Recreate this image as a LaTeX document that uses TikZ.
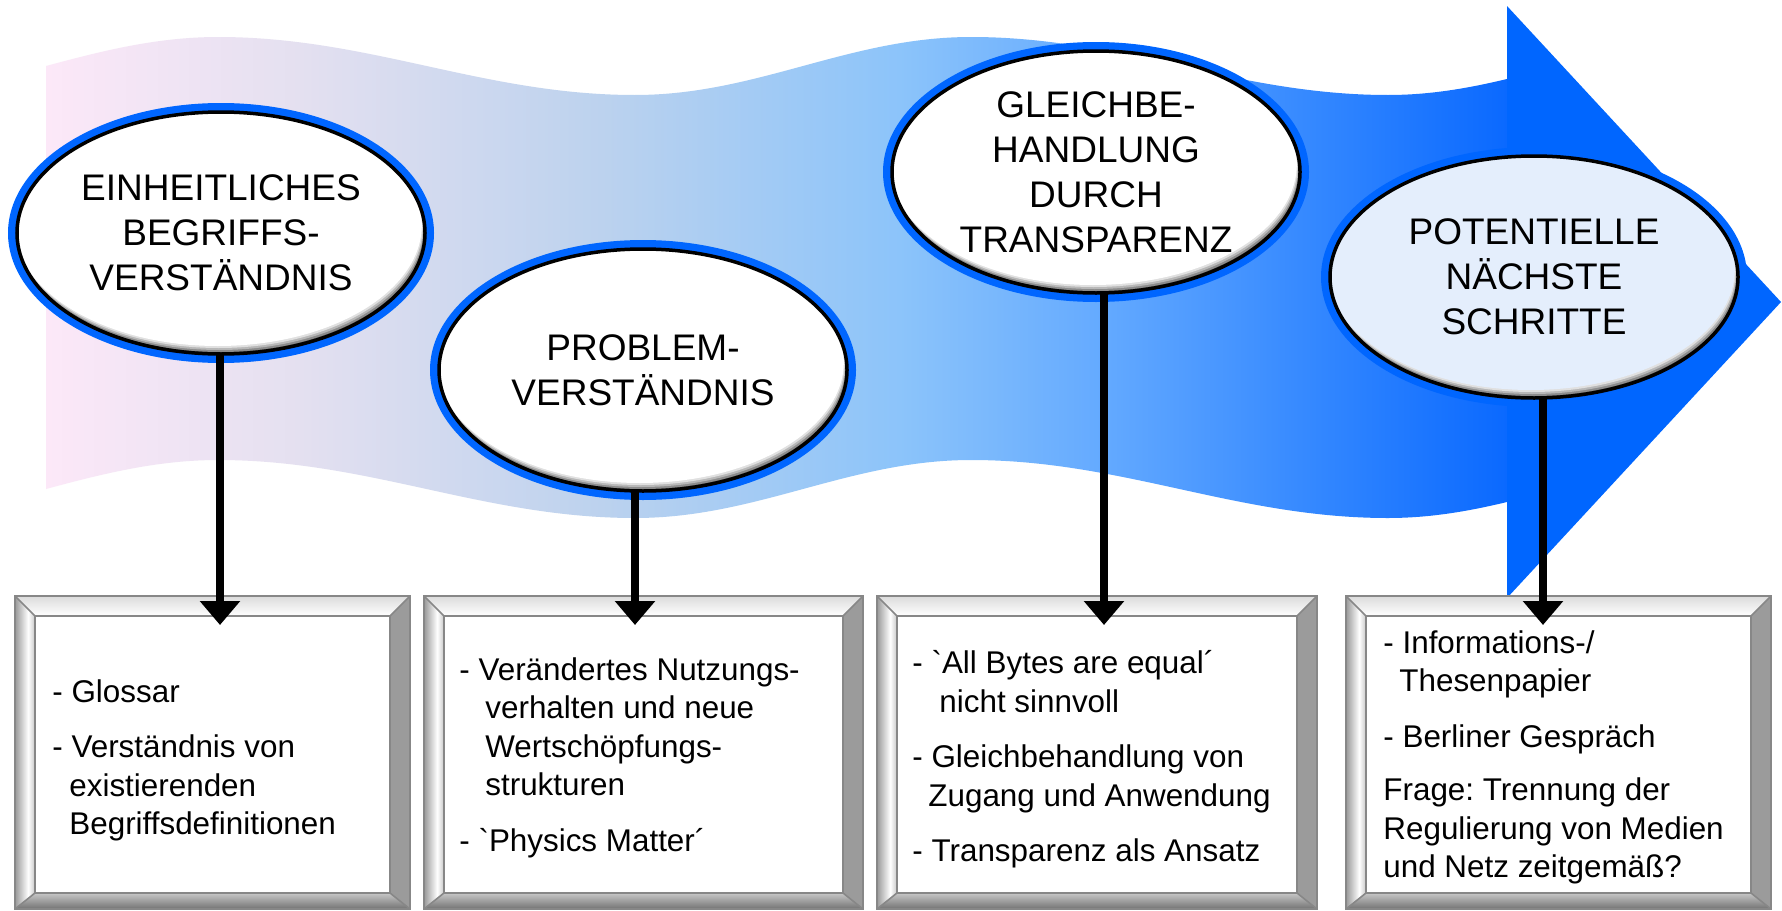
\documentclass[tikz,border=0pt]{standalone}
\usepackage{fontspec}
\newfontfamily\arial{Liberation Sans}
\usetikzlibrary{arrows.meta,fit,calc,shapes.geometric}
\frenchspacing

\definecolor{ringblue}{RGB}{0,102,255}
\definecolor{bc0}{RGB}{252,232,248}
\definecolor{bc1}{RGB}{228,224,240}
\definecolor{bc2}{RGB}{188,210,238}
\definecolor{bc3}{RGB}{140,196,250}
\definecolor{bc4}{RGB}{100,170,255}
\definecolor{bc5}{RGB}{55,138,255}
\definecolor{bc6}{RGB}{10,105,255}
\definecolor{lightfill}{RGB}{228,238,252}
\definecolor{bevline}{RGB}{135,135,135}
\definecolor{rightbev}{RGB}{155,155,155}

\pgfdeclarehorizontalshading{bandshade}{100bp}{color(0bp)=(bc0); color(25bp)=(bc0); color(33.7bp)=(bc1); color(44bp)=(bc2); color(54.2bp)=(bc3); color(61.1bp)=(bc4); color(67.9bp)=(bc5); color(75bp)=(bc6); color(100bp)=(bc6)}
\pgfdeclarehorizontalshading{leftbevel}{100bp}{color(0bp)=(black!40); color(25bp)=(black!40); color(58bp)=(white); color(75bp)=(black!22); color(100bp)=(black!22)}

\newcommand{\ringell}[5]{%
  \fill[ringblue] (#2,#3) ellipse [x radius=213, y radius=130];
  \begin{scope}
    \clip (#2,#3) ellipse [x radius=204, y radius=121];
    \fill[black!65] (#2,#3) ellipse [x radius=204, y radius=121];
    \fill[black!45] (#2-0.8,#3-2) ellipse [x radius=204, y radius=121];
    \fill[black!28] (#2-1.6,#3-4) ellipse [x radius=204, y radius=121];
    \fill[black!12] (#2-2.4,#3-6) ellipse [x radius=204, y radius=121];
    \fill[#4] (#2-3.2,#3-8) ellipse [x radius=204, y radius=121];
  \end{scope}
  \draw[black, line width=1.75pt] (#2,#3) ellipse [x radius=204, y radius=121];
  \node[ellnode] (#1) at (#2,#3) {#5};
}

\newcommand{\bevelbox}[5]{%
  \fill[white] (#2+20,#3+20) rectangle (#4-20,#5-16);
  \shade[top color=black!14, bottom color=white] (#2,#3) -- (#4,#3) -- (#4-20,#3+20) -- (#2+20,#3+20) -- cycle;
  \shade[shading=leftbevel] (#2,#3) -- (#2+20,#3+20) -- (#2+20,#5-16) -- (#2,#5) -- cycle;
  \fill[rightbev] (#4,#3) -- (#4,#5) -- (#4-20,#5-16) -- (#4-20,#3+20) -- cycle;
  \shade[top color=black!22, bottom color=black!55] (#2,#5) -- (#2+20,#5-16) -- (#4-20,#5-16) -- (#4,#5) -- cycle;
  \draw[bevlinestyle] (#2,#3) rectangle (#4,#5) (#2+20,#3+20) rectangle (#4-20,#5-16)
    (#2,#3) -- (#2+20,#3+20) (#4,#3) -- (#4-20,#3+20) (#2,#5) -- (#2+20,#5-16) (#4,#5) -- (#4-20,#5-16);
  \coordinate (#1nw) at (#2,#3);
  \coordinate (#1se) at (#4,#5);
  \node[fit=(#1nw)(#1se), inner sep=0] (#1) {};
}

\begin{document}
\begin{tikzpicture}[x=0.5pt,y=-0.5pt,
  ellnode/.style={ellipse, minimum width=204pt, minimum height=121pt, inner sep=0pt, align=center,
    font=\arial\fontsize{18.5pt}{22.5pt}\selectfont},
  boxtext/.style={anchor=north west, align=left, inner sep=0pt,
    font=\arial\fontsize{15.7pt}{19.25pt}\selectfont},
  bevlinestyle/.style={draw=bevline, line width=0.8pt},
  conn/.style={line width=4pt, -{Triangle[length=12pt,width=19.5pt]}}]
\useasboundingbox (0,0) rectangle (1782,910);
\fill[white] (0,0) rectangle (1782,910);

% wave band
\shade[shading=bandshade] (46,66) .. controls (100,51.5) and (156,37) .. (218,37)
  .. controls (369.8,37) and (483.2,95) .. (635,95)
  .. controls (757.3,95) and (848.7,37) .. (971,37)
  .. controls (1122.8,37) and (1236.2,95) .. (1388,95)
  .. controls (1430.6,95) and (1469.4,88) .. (1507,79)
  -- (1507,502)
  .. controls (1469.4,511) and (1430.6,518) .. (1388,518)
  .. controls (1236.2,518) and (1122.8,460) .. (971,460)
  .. controls (848.7,460) and (757.3,518) .. (635,518)
  .. controls (483.2,518) and (369.8,460) .. (218,460)
  .. controls (156,460) and (100,474.5) .. (46,489) -- cycle;
% arrow head
\fill[ringblue] (1507,6) -- (1781,302) -- (1507,598) -- cycle;

% ellipses
\ringell{e1}{221}{233}{white}{EINHEITLICHES\\BEGRIFFS-\\VERSTÄNDNIS}
\ringell{e2}{643}{370}{white}{PROBLEM-\\VERSTÄNDNIS}
\ringell{e3}{1096}{172}{white}{GLEICHBE-\\HANDLUNG\\DURCH\\TRANSPARENZ}
\ringell{e4}{1534}{277}{lightfill}{POTENTIELLE\\NÄCHSTE\\SCHRITTE}

% boxes
\bevelbox{b1}{15}{596}{410}{909}
\bevelbox{b2}{424}{596}{863}{909}
\bevelbox{b3}{877}{596}{1317}{909}
\bevelbox{b4}{1346}{596}{1771}{909}

\node[boxtext] (b1txt) at (52,679) {- Glossar\\[8.5pt]
  - Verständnis von\\ \hspace*{8.5pt}existierenden\\ \hspace*{8.5pt}Begriffsdefinitionen};
\node[boxtext] (b2txt) at (459,657) {- Verändertes Nutzungs-\\ \hspace*{13pt}verhalten und neue\\
  \hspace*{13pt}Wertschöpfungs-\\ \hspace*{13pt}strukturen\\[8.5pt] - `Physics Matter´};
\node[boxtext] (b3txt) at (912,650) {- `All Bytes are equal´\\ \hspace*{13.5pt}nicht sinnvoll\\[8.5pt]
  - Gleichbehandlung von\\ \hspace*{8pt}Zugang und Anwendung\\[8.5pt] - Transparenz als Ansatz};
\node[boxtext] (b4txt) at (1383,630) {- Informations-/\\ \hspace*{8pt}Thesenpapier\\[8.5pt]
  - Berliner Gespräch\\[7.5pt] Frage: Trennung der\\ Regulierung von Medien\\ und Netz zeitgemäß?};

% connectors
\coordinate (t1) at (220,625);
\coordinate (t2) at (635,625);
\coordinate (t3) at (1104,625);
\coordinate (t4) at (1543,625);
\draw[conn] (e1.south -| t1) -- (t1);
\draw[conn] (e2.south -| t2) -- (t2);
\draw[conn] (e3.south -| t3) -- (t3);
\draw[conn] (e4.south -| t4) -- (t4);
\end{tikzpicture}
\end{document}
